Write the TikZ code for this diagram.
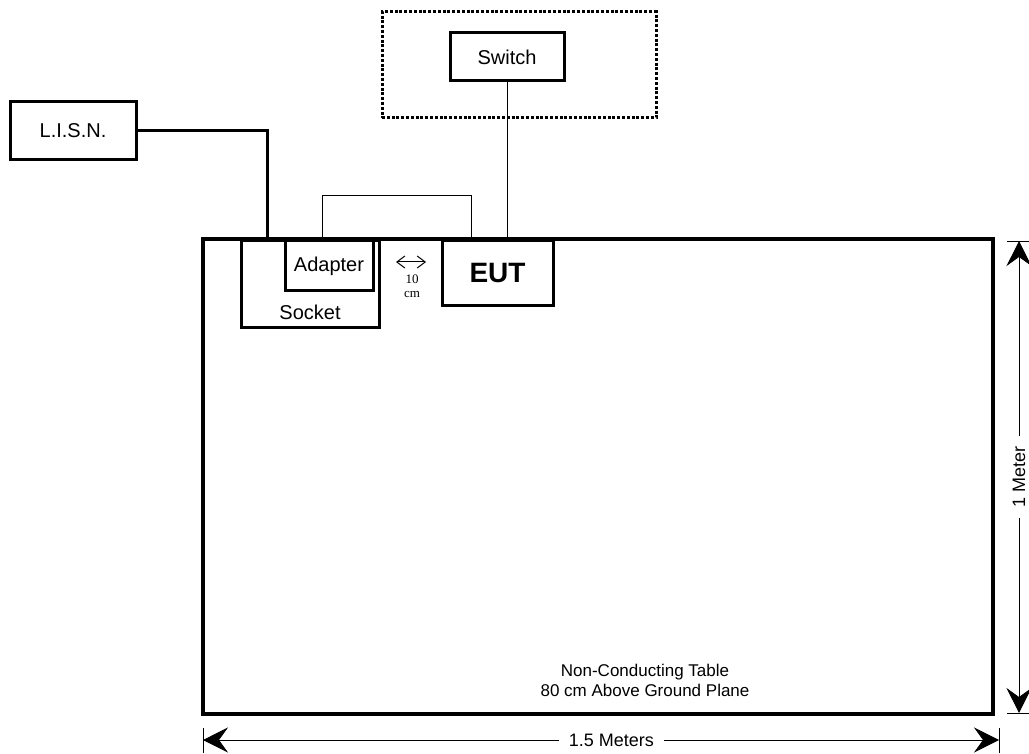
\documentclass[tikz,border=0pt]{standalone}
\usepackage{fontspec}
\setmainfont{Liberation Sans}
\newfontfamily\timesfont{Liberation Serif}
\usetikzlibrary{arrows.meta,positioning}

\begin{document}
\begin{tikzpicture}[x=1pt, y=-1pt,
	unitbox/.style={draw, line width=3pt, inner sep=0pt, font=\fontsize{20}{24}\selectfont},
	label20/.style={inner sep=0pt, font=\fontsize{20}{24}\selectfont},
	thinwire/.style={line width=1pt},
	thickwire/.style={line width=3pt},
	dimtxt/.style={fill=white, inner xsep=10pt, inner ysep=2pt, font=\fontsize{18}{20}\selectfont},
	dimline/.style={line width=0.8pt, {Stealth[length=25pt,width=25pt,inset=9pt]}-{Stealth[length=25pt,width=25pt,inset=9pt]}},
	tickline/.style={line width=0.8pt}]
	\useasboundingbox (0,0) rectangle (1029,754);
	
	% table and the boxes on it
	\node[draw, line width=4pt, inner sep=0pt, minimum width=790pt, minimum height=475pt] (table) at (598,476.5) {};
	\node[unitbox, minimum width=138pt, minimum height=87pt] (socket) at (310,284.5) {};
	\node[label20] (socketlbl) at (310,312) {Socket};
	\node[unitbox, minimum width=88pt, minimum height=50pt] (adapter) at (329,266) {Adapter};
	\node[unitbox, minimum width=111pt, minimum height=65pt, font=\fontsize{28}{30}\selectfont\bfseries] (eut) at (497.5,273.5) {EUT};
	\node[align=center, inner sep=0pt, font=\fontsize{17}{20}\selectfont] (tablenote) at (645,680)
	{Non-Conducting Table\\80 cm Above Ground Plane};
	
	% equipment off the table
	\node[unitbox, minimum width=126pt, minimum height=58pt] (lisn) at (73,131) {L.I.S.N.};
	\node[draw, line width=3pt, dash pattern=on 3pt off 1.8pt, minimum width=274pt, minimum height=106pt] (switcharea) at (519,65) {};
	\node[unitbox, minimum width=114pt, minimum height=48pt] (switch) at (507,57) {Switch};
	
	% wiring
	\coordinate (plug) at (267,239);
	\draw[thickwire] (lisn.east) -| (plug);
	\draw[thinwire] (switch.south) -- (switch.south |- table.north);
	\coordinate (loopL) at (322,196);
	\coordinate (loopR) at (471,196);
	\draw[thinwire] (loopL |- adapter.north) -- (loopL) -- (loopR) -- (loopR |- eut.north);
	
	% 10 cm spacing
	\coordinate (gapL) at (396,262);
	\coordinate (gapR) at (426,262);
	\draw[thinwire, {Straight Barb[length=8pt,width=12pt]}-{Straight Barb[length=8pt,width=12pt]}] (gapL) -- (gapR);
	\node[align=center, inner sep=0pt, font=\timesfont\fontsize{13}{14}\selectfont] (gaplbl) at (412,286) {10\\cm};
	
	% dimensions
	\coordinate (wL) at (203,740);
	\coordinate (wR) at (999,740);
	\draw[tickline] (wL) ++(0,-12) -- ++(0,25);
	\draw[tickline] (wR) ++(0,-12) -- ++(0,25);
	\draw[dimline] (wL) -- (wR) node[pos=0.513, dimtxt] (widthlbl) {1.5 Meters};
	
	\coordinate (hT) at (1019,241);
	\coordinate (hB) at (1019,713);
	\draw[tickline] (hT) ++(-12,0) -- ++(24,0);
	\draw[tickline] (hB) ++(-12,0) -- ++(24,0);
	\draw[dimline] (hT) -- (hB) node[midway, rotate=90, dimtxt] (heightlbl) {1 Meter};
\end{tikzpicture}
\end{document}
